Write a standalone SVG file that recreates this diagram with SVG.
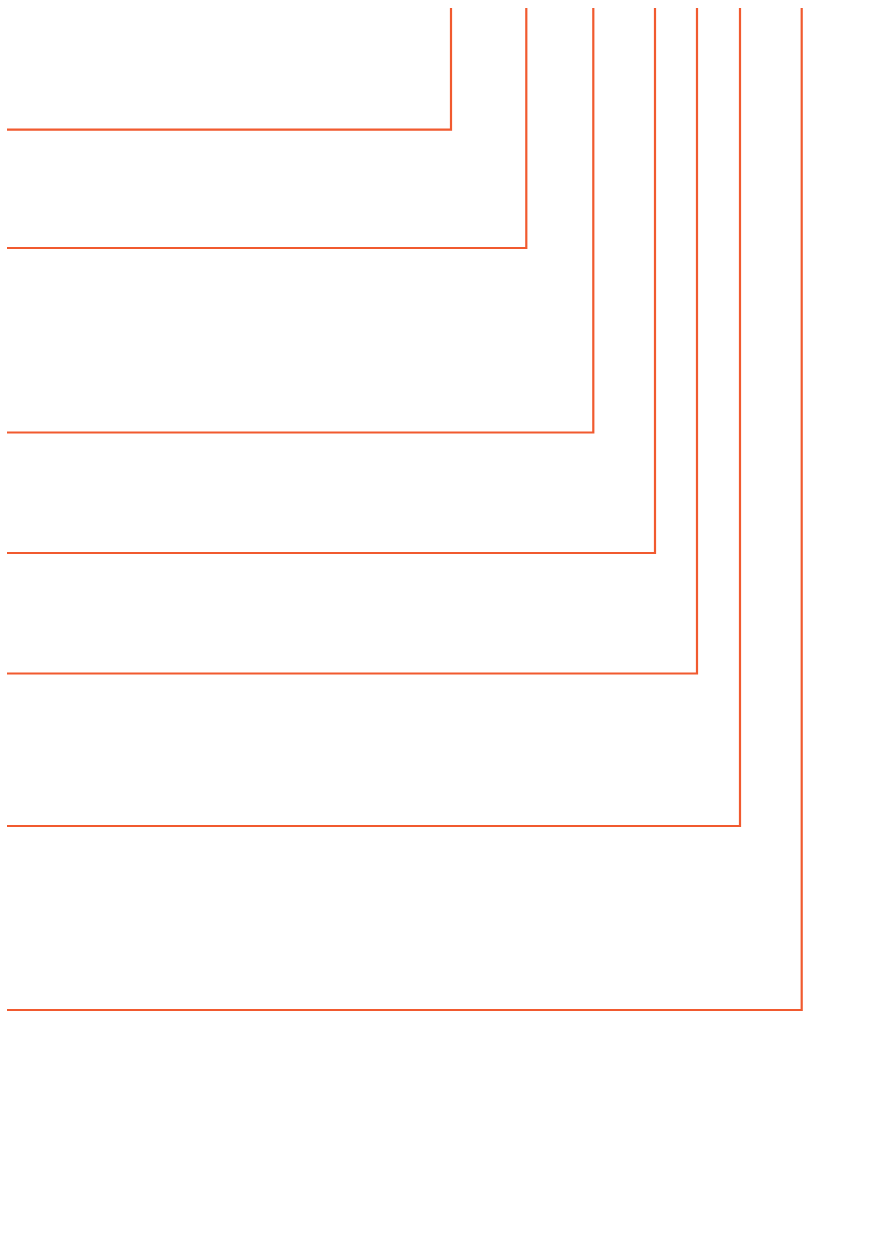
<svg xmlns="http://www.w3.org/2000/svg" width="877" height="1255" viewBox="0 0 877 1255">
<style>
.c{fill:none;stroke:#F15A2F;stroke-width:2.2}
</style>
<rect width="877" height="1255" fill="#ffffff"/>
<g id="connectors">
<polyline class="c" points="7,129.7 451,129.7 451,8"/>
<polyline class="c" points="7,248 526.3,248 526.3,8"/>
<polyline class="c" points="7,432.5 593.3,432.5 593.3,8"/>
<polyline class="c" points="7,553 655,553 655,8"/>
<polyline class="c" points="7,673.5 697,673.5 697,8"/>
<polyline class="c" points="7,826 740,826 740,8"/>
<polyline class="c" points="7,1010 801.7,1010 801.7,8"/>
</g>
</svg>
